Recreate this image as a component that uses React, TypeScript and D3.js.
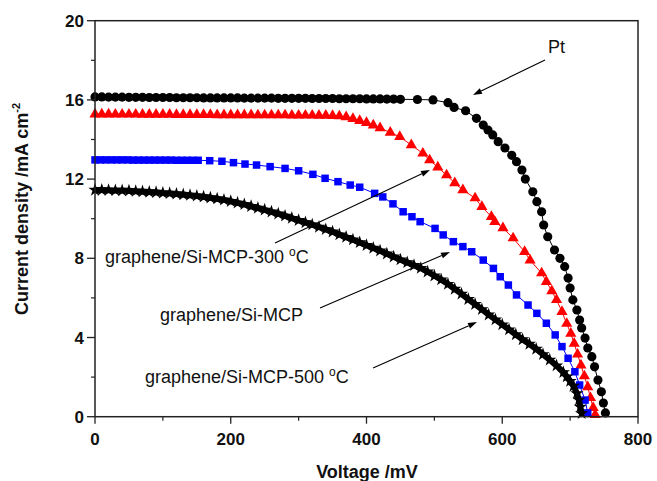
import React from 'react';
import * as d3 from 'd3';

// ---------- data ----------
const xTickValues = [0, 200, 400, 600, 800];
const xMinorTicks = [100, 300, 500, 700];
const yTickValues = [0, 4, 8, 12, 16, 20];
const yMinorTicks = [2, 6, 10, 14, 18];

// Pt (black circles)
const ptV = [0, 10, 20, 30, 40, 50, 60, 70, 80, 90, 100, 110, 120, 130, 140, 150, 160, 170, 180, 190, 200, 210, 220, 230, 240, 250, 260, 270, 280, 290, 300, 310, 320, 330, 340, 350, 360, 370, 380, 390, 400, 410, 420, 430, 440, 450, 475, 498, 520, 529, 546, 562, 572, 579, 586, 594, 604, 614, 621, 629, 634, 645, 651, 658, 661, 667, 677, 685, 692, 697, 700, 704, 710, 714, 717, 722, 726, 732, 736, 741, 746, 749, 752];
const ptJ = [16.15, 16.15, 16.14, 16.14, 16.14, 16.13, 16.13, 16.13, 16.12, 16.12, 16.12, 16.12, 16.11, 16.11, 16.11, 16.11, 16.1, 16.1, 16.1, 16.1, 16.1, 16.1, 16.09, 16.09, 16.09, 16.09, 16.09, 16.08, 16.08, 16.08, 16.08, 16.08, 16.07, 16.07, 16.07, 16.07, 16.06, 16.06, 16.06, 16.06, 16.05, 16.05, 16.05, 16.04, 16.04, 16.03, 16.02, 16.0, 15.86, 15.62, 15.45, 15.07, 14.73, 14.48, 14.23, 13.89, 13.57, 13.2, 12.88, 12.46, 12.0, 11.36, 10.86, 10.35, 9.68, 9.09, 8.42, 8.0, 7.58, 7.0, 6.5, 5.9, 5.39, 4.88, 4.48, 3.97, 3.47, 3.03, 2.52, 1.85, 1.26, 0.69, 0.19];

// graphene/Si-MCP-300 °C (red triangles)
const redV = [0, 10, 20, 30, 40, 50, 60, 70, 80, 90, 100, 110, 120, 130, 140, 150, 160, 170, 180, 190, 200, 210, 220, 230, 240, 250, 260, 270, 280, 290, 300, 310, 320, 330, 340, 350, 360, 370, 380, 390, 400, 410, 420, 435, 449, 466, 483, 493, 505, 518, 530, 542, 560, 570, 584, 589, 601, 616, 633, 641, 658, 665, 673, 680, 688, 695, 701, 706, 711, 716, 721, 726, 730, 734, 737];
const redJ = [15.28, 15.28, 15.28, 15.27, 15.27, 15.27, 15.27, 15.26, 15.26, 15.26, 15.26, 15.26, 15.25, 15.25, 15.25, 15.25, 15.25, 15.25, 15.24, 15.24, 15.24, 15.24, 15.24, 15.24, 15.23, 15.23, 15.23, 15.23, 15.23, 15.22, 15.22, 15.22, 15.22, 15.21, 15.21, 15.2, 15.18, 15.14, 15.05, 14.95, 14.85, 14.72, 14.58, 14.35, 14.14, 13.72, 13.3, 12.96, 12.6, 12.2, 11.8, 11.45, 11.04, 10.6, 10.1, 9.85, 9.53, 9.02, 8.33, 7.9, 7.25, 6.82, 6.35, 5.9, 5.3, 4.7, 4.2, 3.7, 3.15, 2.6, 2.05, 1.5, 0.95, 0.45, 0.1];

// graphene/Si-MCP (blue squares)
const blueV = [0, 8, 16, 24, 32, 40, 48, 56, 64, 72, 80, 88, 96, 104, 112, 120, 128, 136, 144, 152, 169, 187, 204, 221, 238, 258, 280, 300, 321, 339, 358, 376, 390, 412, 424, 439, 454, 467, 479, 501, 513, 528, 542, 555, 572, 587, 597, 609, 621, 638, 651, 665, 678, 688, 697, 707, 714, 722, 726];
const blueJ = [12.97, 12.97, 12.97, 12.97, 12.97, 12.97, 12.97, 12.96, 12.96, 12.96, 12.96, 12.96, 12.96, 12.96, 12.96, 12.95, 12.95, 12.95, 12.95, 12.95, 12.93, 12.9, 12.83, 12.76, 12.71, 12.63, 12.54, 12.42, 12.24, 12.04, 11.87, 11.7, 11.59, 11.28, 11.1, 10.75, 10.35, 10.1, 9.85, 9.51, 9.18, 8.84, 8.59, 8.33, 7.91, 7.49, 7.07, 6.65, 6.15, 5.64, 5.22, 4.72, 4.13, 3.54, 2.95, 2.27, 1.6, 0.84, 0.19];

// graphene/Si-MCP-500 °C (black stars)
const b5V = [0, 10, 20, 30, 40, 50, 60, 70, 80, 90, 100, 110, 120, 130, 140, 150, 160, 170, 180, 190, 200, 210, 220, 230, 240, 250, 260, 270, 280, 290, 300, 310, 320, 330, 340, 350, 360, 370, 380, 390, 400, 410, 420, 430, 440, 450, 460, 470, 480, 490, 500, 510, 520, 530, 540, 550, 560, 570, 580, 590, 600, 610, 620, 630, 640, 650, 660, 670, 680, 690, 695, 700, 705, 710, 713, 715, 717];
const b5J = [11.45, 11.45, 11.44, 11.43, 11.42, 11.41, 11.39, 11.37, 11.35, 11.33, 11.3, 11.28, 11.25, 11.22, 11.19, 11.15, 11.11, 11.06, 11.01, 10.95, 10.88, 10.8, 10.72, 10.63, 10.54, 10.45, 10.35, 10.25, 10.14, 10.03, 9.92, 9.81, 9.7, 9.58, 9.46, 9.34, 9.2, 9.07, 8.94, 8.8, 8.66, 8.52, 8.38, 8.23, 8.08, 7.93, 7.79, 7.65, 7.5, 7.32, 7.12, 6.92, 6.7, 6.45, 6.2, 5.93, 5.68, 5.42, 5.15, 4.9, 4.65, 4.4, 4.15, 3.9, 3.67, 3.42, 3.15, 2.87, 2.58, 2.24, 2.02, 1.8, 1.55, 1.18, 0.85, 0.5, 0.17];

// ---------- layout ----------
const W = 657, H = 481;
const x = d3.scaleLinear().domain([0, 800]).range([95, 638]);
const y = d3.scaleLinear().domain([0, 20]).range([416.7, 20.7]);

const FONT = 'Liberation Sans, Arial, sans-serif';

type Series = { v: number[]; j: number[]; color: string; symbol: d3.SymbolType; size: number; lw: number };
const series: Series[] = [
  { v: ptV, j: ptJ, color: '#000000', symbol: d3.symbolCircle, size: 66, lw: 1 },
  { v: redV, j: redJ, color: '#ff0000', symbol: d3.symbolTriangle, size: 54, lw: 1 },
  { v: blueV, j: blueJ, color: '#0000ff', symbol: d3.symbolSquare, size: 56, lw: 1 },
  { v: b5V, j: b5J, color: '#000000', symbol: d3.symbolStar, size: 55, lw: 6 },
];

function Arrow({ x1, y1, x2, y2 }: { x1: number; y1: number; x2: number; y2: number }) {
  const ang = Math.atan2(y2 - y1, x2 - x1);
  const L = 9, Wd = 3;
  const bx = x2 - L * Math.cos(ang), by = y2 - L * Math.sin(ang);
  const px = -Math.sin(ang) * Wd, py = Math.cos(ang) * Wd;
  return (
    <g>
      <line x1={x1} y1={y1} x2={bx} y2={by} stroke="#000" strokeWidth={1.1} />
      <path d={`M${x2},${y2}L${bx + px},${by + py}L${bx - px},${by - py}Z`} fill="#000" />
    </g>
  );
}

export default function App() {
  const line = d3.line<[number, number]>().x(d => x(d[0])).y(d => y(d[1]));
  const x0 = x(0), x1 = x(800), y0 = y(0), y1 = y(20);
  return (
    <svg width={W} height={H} style={{ position: 'absolute', left: 0, top: 0, background: '#fff' }} fontFamily={FONT}>
      <rect x={0} y={0} width={W} height={H} fill="#fff" />
      {/* series */}
      {series.map((s, i) => {
        const pts: [number, number][] = s.v.map((v, k) => [v, s.j[k]]);
        const sym = d3.symbol().type(s.symbol).size(s.size)() as string;
        return (
          <g key={i}>
            <path d={line(pts) as string} fill="none" stroke={s.color} strokeWidth={s.lw} />
            {pts.map((p, k) => (
              <path key={k} d={sym} transform={`translate(${x(p[0])},${y(p[1])})`} fill={s.color} />
            ))}
          </g>
        );
      })}
      {/* frame */}
      <rect x={x0} y={y1} width={x1 - x0} height={y0 - y1} fill="none" stroke="#222" strokeWidth={1.5} />
      {/* x ticks */}
      {xTickValues.map(t => (
        <g key={'xt' + t}>
          <line x1={x(t)} x2={x(t)} y1={y0} y2={y0 + 7} stroke="#222" strokeWidth={1.3} />
          <text x={x(t)} y={y0 + 28} textAnchor="middle" fontSize={17} fontWeight="bold" fill="#111">{t}</text>
        </g>
      ))}
      {xMinorTicks.map(t => (
        <line key={'xm' + t} x1={x(t)} x2={x(t)} y1={y0} y2={y0 + 4} stroke="#222" strokeWidth={1.2} />
      ))}
      {/* y ticks */}
      {yTickValues.map(t => (
        <g key={'yt' + t}>
          <line x1={x0 - 8} x2={x0} y1={y(t)} y2={y(t)} stroke="#222" strokeWidth={1.3} />
          <text x={x0 - 11} y={y(t) + 6} textAnchor="end" fontSize={17} fontWeight="bold" fill="#111">{t}</text>
        </g>
      ))}
      {yMinorTicks.map(t => (
        <line key={'ym' + t} x1={x0 - 4} x2={x0} y1={y(t)} y2={y(t)} stroke="#222" strokeWidth={1.2} />
      ))}
      {/* axis titles */}
      <text x={367} y={478} textAnchor="middle" fontSize={18} fontWeight="bold" fill="#111">Voltage /mV</text>
      <text transform="translate(28,209) rotate(-90)" textAnchor="middle" fontSize={18} fontWeight="bold" fill="#111">
        Current density /mA cm<tspan fontSize={11} dy={-8}>-2</tspan>
      </text>
      {/* annotations */}
      <text x={548} y={53} fontSize={18} fill="#111">Pt</text>
      <Arrow x1={545} y1={60} x2={473} y2={95} />
      <text x={105} y={263} fontSize={18} fill="#111">graphene/Si-MCP-300 <tspan fontSize={12} dy={-7}>o</tspan><tspan dy={7}>C</tspan></text>
      <Arrow x1={275} y1={243} x2={430} y2={170} />
      <text x={160} y={321} fontSize={18} fill="#111">graphene/Si-MCP</text>
      <Arrow x1={320} y1={308} x2={450} y2={252} />
      <text x={145} y={383} fontSize={18} fill="#111">graphene/Si-MCP-500 <tspan fontSize={12} dy={-7}>o</tspan><tspan dy={7}>C</tspan></text>
      <Arrow x1={373} y1={368} x2={477} y2={322} />
    </svg>
  );
}
